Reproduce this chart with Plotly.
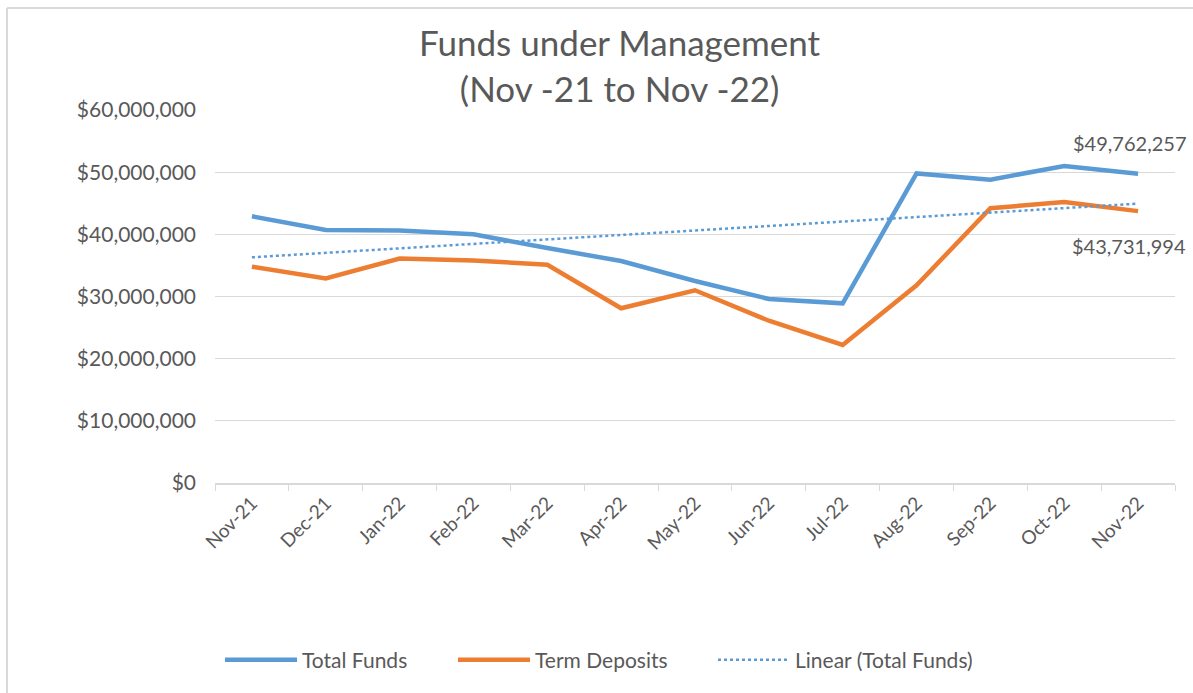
import numpy as np
import plotly.graph_objects as go

months = ["Nov-21", "Dec-21", "Jan-22", "Feb-22", "Mar-22", "Apr-22", "May-22",
          "Jun-22", "Jul-22", "Aug-22", "Sep-22", "Oct-22", "Nov-22"]
total_funds = [42900000, 40700000, 40600000, 40000000, 37800000, 35700000, 32500000,
               29600000, 28900000, 49800000, 48800000, 51000000, 49762257]
term_deposits = [34800000, 32900000, 36100000, 35800000, 35100000, 28100000, 31000000,
                 26100000, 22200000, 31800000, 44200000, 45200000, 43731994]
y_ticks = [0, 10000000, 20000000, 30000000, 40000000, 50000000, 60000000]
y_tick_labels = [f"${v:,.0f}" for v in y_ticks]

idx = np.arange(len(months))
slope, intercept = np.polyfit(idx, total_funds, 1)
trend = slope * idx + intercept

FONT = "Lato"
GREY = "#595959"
BLUE = "#5B9BD5"
ORANGE = "#ED7D31"

# plot-area pixel geometry (for paper-coordinate frame lines)
L, R, T, B = 215, 18, 110, 210
W, H = 1193, 693
pw, ph = W - L - R, H - T - B
def px(x): return (x - L) / pw
def py(y): return (H - B - y) / ph

fig = go.Figure()
fig.add_trace(go.Scatter(x=months, y=total_funds, name="Total Funds", mode="lines",
                         line=dict(color=BLUE, width=4.5), legend="legend"))
fig.add_trace(go.Scatter(x=months, y=term_deposits, name="Term Deposits", mode="lines",
                         line=dict(color=ORANGE, width=4.5), legend="legend2"))
fig.add_trace(go.Scatter(x=months, y=trend, name="Linear (Total Funds)", mode="lines",
                         line=dict(color=BLUE, width=2.5, dash="dot"), legend="legend3"))

fig.add_annotation(x=months[-1], y=total_funds[-1], text=f"${total_funds[-1]:,.0f}",
                   showarrow=False, yshift=31, xshift=-9,
                   font=dict(family=FONT, size=20, color=GREY))
fig.add_annotation(x=months[-1], y=term_deposits[-1], text=f"${term_deposits[-1]:,.0f}",
                   showarrow=False, yshift=-35, xshift=-9,
                   font=dict(family=FONT, size=20, color=GREY))

# chart title (two lines, centred)
fig.add_annotation(text="Funds under Management<br>(Nov -21 to Nov -22)",
                   xref="paper", yref="paper", x=px(620), y=py(65), xanchor="center",
                   yanchor="middle", showarrow=False,
                   font=dict(family=FONT, size=35, color=GREY))

# chart frame lines (left & top border like the source screenshot)
fig.add_shape(type="line", xref="paper", yref="paper", x0=px(7), x1=px(W), y0=py(8), y1=py(8),
              line=dict(color="#d9d9d9", width=2))
fig.add_shape(type="line", xref="paper", yref="paper", x0=px(7), x1=px(7), y0=py(8), y1=py(H),
              line=dict(color="#d9d9d9", width=2))

def legend_at(xpix):
    return dict(orientation="h", xref="paper", x=px(xpix), xanchor="left",
                y=py(660), yanchor="middle", font=dict(family=FONT, size=21, color=GREY),
                itemwidth=72, bgcolor="rgba(0,0,0,0)")

fig.update_layout(
    width=W, height=H,
    margin=dict(l=L, r=R, t=T, b=B, autoexpand=False),
    paper_bgcolor="white", plot_bgcolor="white",
    font=dict(family=FONT, color=GREY),
    showlegend=True,
    legend=legend_at(220),
    legend2=legend_at(453),
    legend3=legend_at(713),
    xaxis=dict(type="category", categoryorder="array", categoryarray=months,
               tickson="boundaries", ticks="outside", ticklen=6, tickcolor="#d9d9d9",
               showline=True, linecolor="#d9d9d9", linewidth=1.5, showgrid=False,
               tickangle=-45, tickfont=dict(family=FONT, size=19, color=GREY),
               range=[-0.5, len(months) - 0.5]),
    yaxis=dict(range=[0, 60000000], tickmode="array", tickvals=y_ticks, ticktext=y_tick_labels,
               showgrid=True, gridcolor="#d9d9d9", gridwidth=1.2, zeroline=False,
               showline=False, ticks="", ticklabelstandoff=18,
               tickfont=dict(family=FONT, size=21, color=GREY)),
)

fig.write_html("out.html", config={"displayModeBar": False},
               post_script="document.body.style.margin='0';document.body.style.overflow='hidden';")
